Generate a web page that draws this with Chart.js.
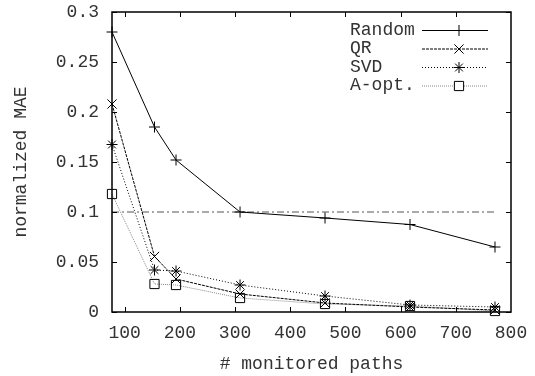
<!DOCTYPE html>
<html>
<head>
<meta charset="utf-8">
<script src="https://cdn.jsdelivr.net/npm/chart.js@4/dist/chart.umd.min.js"></script>
<style>
  html, body { margin: 0; padding: 0; background: #fff; }
</style>
</head>
<body>
<canvas id="maeChart" width="535" height="376"></canvas>
<script>
// Number of monitored paths (x positions shared by all methods)
const monitoredPaths = [77, 154, 193, 309, 463, 617, 771];

// Normalized MAE for each path-selection method
const randomMae = [0.280, 0.185, 0.152, 0.100, 0.094, 0.0875, 0.065];
const qrMae     = [0.208, 0.0555, 0.033, 0.018, 0.009, 0.005, 0.002];
const svdMae    = [0.1675, 0.042, 0.041, 0.027, 0.016, 0.007, 0.005];
const aoptMae   = [0.118, 0.028, 0.027, 0.014, 0.008, 0.006, 0.001];

// Reference error level drawn as a flat line
const targetMae = 0.1;

const xTicks = [100, 200, 300, 400, 500, 600, 700, 800];
const yTicks = [0, 0.05, 0.1, 0.15, 0.2, 0.25, 0.3];
const yTickLabels = ['0', '0.05', '0.1', '0.15', '0.2', '0.25', '0.3'];

const FONT = "'Liberation Mono', 'Courier New', monospace";
const TEXT_COLOR = '#333';

function toPoints(values) {
    return monitoredPaths.map((x, i) => ({ x: x, y: values[i] }));
}

const datasets = [
    {
        label: 'Random',
        data: toPoints(randomMae),
        borderColor: '#000',
        borderWidth: 1,
        pointStyle: 'cross',
        pointRadius: 5.5
    },
    {
        label: 'QR',
        data: toPoints(qrMae),
        borderColor: '#000',
        borderWidth: 1,
        borderDash: [3, 1],
        pointStyle: 'crossRot',
        pointRadius: 6.5
    },
    {
        label: 'SVD',
        data: toPoints(svdMae),
        borderColor: '#000',
        borderWidth: 1,
        borderDash: [1, 2],
        pointStyle: 'star',
        pointRadius: 5.5
    },
    {
        label: 'A-opt.',
        data: toPoints(aoptMae),
        borderColor: '#888',
        borderWidth: 1,
        borderDash: [1, 1],
        pointStyle: 'rect',
        pointRadius: 6.5
    },
    {
        label: 'target',
        data: [
            { x: monitoredPaths[0], y: targetMae },
            { x: monitoredPaths[monitoredPaths.length - 1], y: targetMae }
        ],
        borderColor: '#555',
        borderWidth: 1,
        borderDash: [7, 3, 2, 3],
        pointRadius: 0,
        inLegend: false
    }
];

datasets.forEach(ds => {
    ds.fill = false;
    ds.tension = 0;
    ds.clip = false;
    ds.pointBorderColor = '#000';
    ds.pointBackgroundColor = 'rgba(0,0,0,0)';
    ds.pointBorderWidth = 1;
});

// Box around the plot with inward ticks on all four sides, plus the key
const framePlugin = {
    id: 'frame',
    afterDatasetsDraw(chart) {
        const ctx = chart.ctx;
        const area = chart.chartArea;
        const xs = chart.scales.x;
        const ys = chart.scales.y;
        const tickLen = 5;

        ctx.save();
        ctx.strokeStyle = '#000';
        ctx.lineWidth = 1.5;
        ctx.setLineDash([]);
        ctx.strokeRect(area.left, area.top, area.right - area.left, area.bottom - area.top);

        ctx.lineWidth = 1;
        ctx.beginPath();
        xTicks.forEach(v => {
            const px = Math.round(xs.getPixelForValue(v)) + 0.5;
            if (px > area.right - 1) return;
            ctx.moveTo(px, area.bottom);
            ctx.lineTo(px, area.bottom - tickLen);
            ctx.moveTo(px, area.top);
            ctx.lineTo(px, area.top + tickLen);
        });
        yTicks.forEach(v => {
            const py = Math.round(ys.getPixelForValue(v)) + 0.5;
            ctx.moveTo(area.left, py);
            ctx.lineTo(area.left + tickLen, py);
            ctx.moveTo(area.right, py);
            ctx.lineTo(area.right - tickLen, py);
        });
        ctx.stroke();

        // key, top right inside the plot
        const textX = 350;
        const lineStart = 422;
        const lineEnd = 488;
        const markX = 459;
        let rowY = 30;
        ctx.font = '18px ' + FONT;
        ctx.textBaseline = 'middle';
        ctx.textAlign = 'left';
        chart.data.datasets.forEach(ds => {
            if (ds.inLegend === false) return;
            ctx.fillStyle = TEXT_COLOR;
            ctx.fillText(ds.label, textX, rowY);

            ctx.strokeStyle = ds.borderColor;
            ctx.lineWidth = ds.borderWidth;
            ctx.setLineDash(ds.borderDash || []);
            ctx.beginPath();
            ctx.moveTo(lineStart, rowY + 0.5);
            ctx.lineTo(lineEnd, rowY + 0.5);
            ctx.stroke();

            ctx.setLineDash([]);
            ctx.strokeStyle = '#000';
            ctx.fillStyle = '#fff';
            ctx.lineWidth = 1;
            Chart.helpers.drawPoint(ctx, {
                pointStyle: ds.pointStyle,
                radius: ds.pointRadius,
                borderWidth: 1,
                rotation: 0
            }, markX, rowY + 0.5);
            rowY += 18.5;
        });
        ctx.restore();
    }
};

new Chart(document.getElementById('maeChart'), {
    type: 'line',
    data: { datasets: datasets },
    options: {
        responsive: false,
        animation: false,
        devicePixelRatio: 1,
        layout: { padding: { top: 12, right: 24, left: 0, bottom: 0 } },
        plugins: {
            legend: { display: false },
            tooltip: { enabled: false }
        },
        scales: {
            x: {
                type: 'linear',
                min: 77,
                max: 800,
                afterBuildTicks: scale => {
                    scale.ticks = xTicks.map(v => ({ value: v }));
                },
                afterFit: scale => {
                    scale.height = 64;
                    scale.paddingLeft = 0;
                    scale.paddingRight = 0;
                },
                grid: { display: false },
                border: { display: false },
                ticks: {
                    autoSkip: false,
                    maxRotation: 0,
                    padding: 2,
                    color: TEXT_COLOR,
                    font: { family: FONT, size: 18 }
                },
                title: {
                    display: true,
                    text: '# monitored paths',
                    color: TEXT_COLOR,
                    font: { family: FONT, size: 18 },
                    padding: { top: 0, bottom: 1 }
                }
            },
            y: {
                type: 'linear',
                min: 0,
                max: 0.3,
                afterBuildTicks: scale => {
                    scale.ticks = yTicks.map(v => ({ value: v }));
                },
                afterFit: scale => {
                    scale.width = 112;
                    scale.paddingTop = 0;
                    scale.paddingBottom = 0;
                },
                grid: { display: false },
                border: { display: false },
                ticks: {
                    autoSkip: false,
                    padding: 5,
                    color: TEXT_COLOR,
                    font: { family: FONT, size: 18 },
                    callback: (value, index) => yTickLabels[index]
                },
                title: {
                    display: true,
                    text: 'normalized MAE',
                    color: TEXT_COLOR,
                    font: { family: FONT, size: 18 },
                    padding: { top: 10, bottom: 0 }
                }
            }
        }
    },
    plugins: [framePlugin]
});
</script>
</body>
</html>
